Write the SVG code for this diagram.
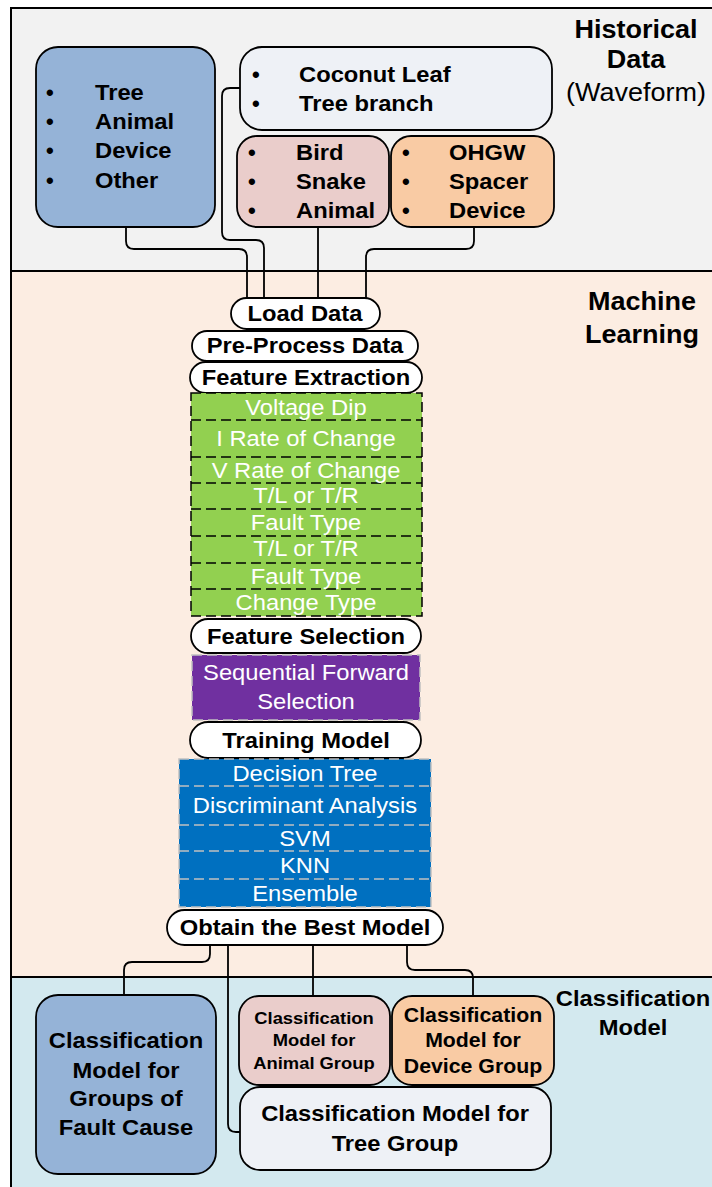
<svg xmlns="http://www.w3.org/2000/svg" width="712" height="1187" viewBox="0 0 712 1187">
  <style>
    .band { stroke: #000; stroke-width: 2; }
    .box { stroke: #000; stroke-width: 1.8; }
    .pill { fill: #fff; stroke: #000; stroke-width: 1.8; }
    .b { font-family: "Liberation Sans", Arial, sans-serif; font-weight: bold; fill: #000; }
    .r { font-family: "Liberation Sans", Arial, sans-serif; fill: #000; }
    .w { font-family: "Liberation Sans", Arial, sans-serif; fill: #fff; font-size: 22px; text-anchor: middle; }
    .c { text-anchor: middle; }
    .conn { fill: none; stroke: #000; stroke-width: 1.8; }
    .dashK { fill: none; stroke: #000; stroke-width: 1.5; stroke-dasharray: 10 5; }
    .dashG { fill: none; stroke: #c0c0c0; stroke-width: 1.5; stroke-dasharray: 10 5; }
  </style>

  <!-- section bands -->
  <g id="bands">
    <rect class="band" x="11" y="8" width="710" height="263" fill="#f2f2f2"/>
    <rect class="band" x="11" y="271" width="710" height="706" fill="#fcede2"/>
    <rect class="band" x="11" y="977" width="710" height="220" fill="#d3e9ef"/>
  </g>

  <!-- section titles (text is set slightly wide: scale 1.08 about its centre) -->
  <g id="titles">
    <g transform="matrix(1.08 0 0 1 -50.88 0)">
      <text class="b c" x="636" y="38" font-size="25">Historical</text>
      <text class="b c" x="636" y="68" font-size="25">Data</text>
      <text class="r c" x="636" y="101" font-size="25">(Waveform)</text>
    </g>
    <g transform="matrix(1.08 0 0 1 -51.36 0)">
      <text class="b c" x="642" y="310" font-size="25">Machine</text>
      <text class="b c" x="642" y="343" font-size="25">Learning</text>
    </g>
    <g transform="matrix(1.08 0 0 1 -50.64 0)">
      <text class="b c" x="633" y="1006" font-size="22">Classification</text>
      <text class="b c" x="633" y="1035" font-size="22">Model</text>
    </g>
  </g>

  <!-- connectors -->
  <g id="connectors">
    <path class="conn" d="M126,227 V241 Q126,249 134,249 H239 Q247,249 247,257 V298"/>
    <path class="conn" d="M240,88 H230 Q222,88 222,96 V232 Q222,240 230,240 H256 Q264,240 264,248 V298"/>
    <path class="conn" d="M318,227 V298"/>
    <path class="conn" d="M474,227 V241 Q474,249 466,249 H374 Q366,249 366,257 V298"/>
    <path class="conn" d="M210,945 V954 Q210,962 202,962 H132 Q124,962 124,970 V995"/>
    <path class="conn" d="M228,945 V1124 Q228,1132 236,1132 H240"/>
    <path class="conn" d="M313,945 V996"/>
    <path class="conn" d="M407,945 V962 Q407,970 415,970 H465 Q473,970 473,978 V996"/>
  </g>

  <!-- historical data groups -->
  <g id="groups-all">
    <rect class="box" x="36" y="47" width="179" height="180" rx="22" fill="#95b3d7"/>
    <g class="b" font-size="22">
      <text x="46" y="100">•</text>
      <text x="46" y="129">•</text>
      <text x="46" y="158">•</text>
      <text x="46" y="188">•</text>
      <g transform="matrix(1.08 0 0 1 -7.6 0)">
        <text x="95" y="100">Tree</text>
        <text x="95" y="129">Animal</text>
        <text x="95" y="158">Device</text>
        <text x="95" y="188">Other</text>
      </g>
    </g>
  </g>

  <g id="groups-tree">
    <rect class="box" x="240" y="47" width="312" height="83" rx="22" fill="#eef1f6"/>
    <g class="b" font-size="22">
      <text x="252" y="82">•</text>
      <text x="252" y="111">•</text>
      <g transform="matrix(1.08 0 0 1 -23.92 0)">
        <text x="299" y="82">Coconut Leaf</text>
        <text x="299" y="111">Tree branch</text>
      </g>
    </g>
  </g>

  <g id="groups-animal">
    <rect class="box" x="237" y="136" width="152" height="91" rx="20" fill="#eacdcb"/>
    <g class="b" font-size="22">
      <text x="248" y="160">•</text>
      <text x="248" y="189">•</text>
      <text x="248" y="218">•</text>
      <g transform="matrix(1.08 0 0 1 -23.68 0)">
        <text x="296" y="160">Bird</text>
        <text x="296" y="189">Snake</text>
        <text x="296" y="218">Animal</text>
      </g>
    </g>
  </g>

  <g id="groups-device">
    <rect class="box" x="391" y="136" width="163" height="91" rx="20" fill="#f9cba4"/>
    <g class="b" font-size="22">
      <text x="402" y="160">•</text>
      <text x="402" y="189">•</text>
      <text x="402" y="218">•</text>
      <g transform="matrix(1.08 0 0 1 -35.92 0)">
        <text x="449" y="160">OHGW</text>
        <text x="449" y="189">Spacer</text>
        <text x="449" y="218">Device</text>
      </g>
    </g>
  </g>

  <!-- machine learning pipeline -->
  <g id="load-data">
    <rect class="pill" x="231" y="298" width="149" height="31" rx="15.5"/>
    <text class="b c" x="305" y="321" font-size="22" transform="matrix(1.08 0 0 1 -24.4 0)">Load Data</text>
  </g>
  <g id="pre-process">
    <rect class="pill" x="192" y="331" width="226" height="30" rx="15"/>
    <text class="b c" x="305" y="353" font-size="22" transform="matrix(1.08 0 0 1 -24.4 0)">Pre-Process Data</text>
  </g>
  <g id="feature-extraction">
    <rect class="pill" x="190" y="362" width="232" height="31" rx="15.5"/>
    <text class="b c" x="306" y="385" font-size="22" transform="matrix(1.08 0 0 1 -24.48 0)">Feature Extraction</text>
  </g>

  <g id="features">
    <rect x="191" y="393" width="231" height="223" fill="#92d050"/>
    <rect class="dashK" x="191" y="393" width="231" height="223"/>
    <path class="dashK" d="M191,420 H422 M191,457 H422 M191,483 H422 M191,509 H422 M191,536 H422 M191,563 H422 M191,589 H422"/>
    <g transform="matrix(1.08 0 0 1 -24.48 0)">
      <text class="w" x="306" y="415">Voltage Dip</text>
      <text class="w" x="306" y="446">I Rate of Change</text>
      <text class="w" x="306" y="478">V Rate of Change</text>
      <text class="w" x="306" y="503">T/L or T/R</text>
      <text class="w" x="306" y="530">Fault Type</text>
      <text class="w" x="306" y="556">T/L or T/R</text>
      <text class="w" x="306" y="584">Fault Type</text>
      <text class="w" x="306" y="610">Change Type</text>
    </g>
  </g>

  <g id="feature-selection">
    <rect class="pill" x="191" y="619" width="230" height="34" rx="17"/>
    <text class="b c" x="306" y="644" font-size="22" transform="matrix(1.08 0 0 1 -24.48 0)">Feature Selection</text>
  </g>

  <g id="sfs">
    <rect x="192" y="655" width="228" height="65" fill="#7030a0"/>
    <rect class="dashG" x="192" y="655" width="228" height="65"/>
    <g transform="matrix(1.08 0 0 1 -24.48 0)">
      <text class="w" x="306" y="680">Sequential Forward</text>
      <text class="w" x="306" y="709">Selection</text>
    </g>
  </g>

  <g id="training-model">
    <rect class="pill" x="190" y="722" width="231" height="36" rx="18"/>
    <text class="b c" x="306" y="748" font-size="22" transform="matrix(1.08 0 0 1 -24.48 0)">Training Model</text>
  </g>

  <g id="classifiers">
    <rect x="179" y="759" width="252" height="148" fill="#0070c0"/>
    <rect class="dashG" x="179" y="759" width="252" height="148"/>
    <path class="dashG" d="M179,786 H431 M179,825 H431 M179,851 H431 M179,879 H431"/>
    <g transform="matrix(1.08 0 0 1 -24.4 0)">
      <text class="w" x="305" y="781">Decision Tree</text>
      <text class="w" x="305" y="813">Discriminant Analysis</text>
      <text class="w" x="305" y="846">SVM</text>
      <text class="w" x="305" y="873">KNN</text>
      <text class="w" x="305" y="901">Ensemble</text>
    </g>
  </g>

  <g id="best-model">
    <rect class="pill" x="167" y="910" width="276" height="35" rx="17.5"/>
    <text class="b c" x="305" y="935" font-size="22" transform="matrix(1.08 0 0 1 -24.4 0)">Obtain the Best Model</text>
  </g>

  <!-- classification models -->
  <g id="model-groups">
    <rect class="box" x="36" y="995" width="180" height="179" rx="22" fill="#95b3d7"/>
    <g class="b c" font-size="22" transform="matrix(1.08 0 0 1 -10.08 0)">
      <text x="126" y="1048">Classification</text>
      <text x="126" y="1078">Model for</text>
      <text x="126" y="1106">Groups of</text>
      <text x="126" y="1135">Fault Cause</text>
    </g>
  </g>

  <g id="model-animal">
    <rect class="box" x="239" y="996" width="151" height="89" rx="20" fill="#eacdcb"/>
    <g class="b c" font-size="17" transform="matrix(1.08 0 0 1 -25.12 0)">
      <text x="314" y="1024">Classification</text>
      <text x="314" y="1046">Model for</text>
      <text x="314" y="1069">Animal Group</text>
    </g>
  </g>

  <g id="model-device">
    <rect class="box" x="392" y="996" width="162" height="89" rx="20" fill="#f9cba4"/>
    <g class="b c" font-size="19.7" transform="matrix(1.08 0 0 1 -37.84 0)">
      <text x="473" y="1022">Classification</text>
      <text x="473" y="1047">Model for</text>
      <text x="473" y="1073">Device Group</text>
    </g>
  </g>

  <g id="model-tree">
    <rect class="box" x="240" y="1087" width="311" height="83" rx="20" fill="#eef1f6"/>
    <g class="b c" font-size="22" transform="matrix(1.08 0 0 1 -31.6 0)">
      <text x="395" y="1121">Classification Model for</text>
      <text x="395" y="1151">Tree Group</text>
    </g>
  </g>
</svg>
